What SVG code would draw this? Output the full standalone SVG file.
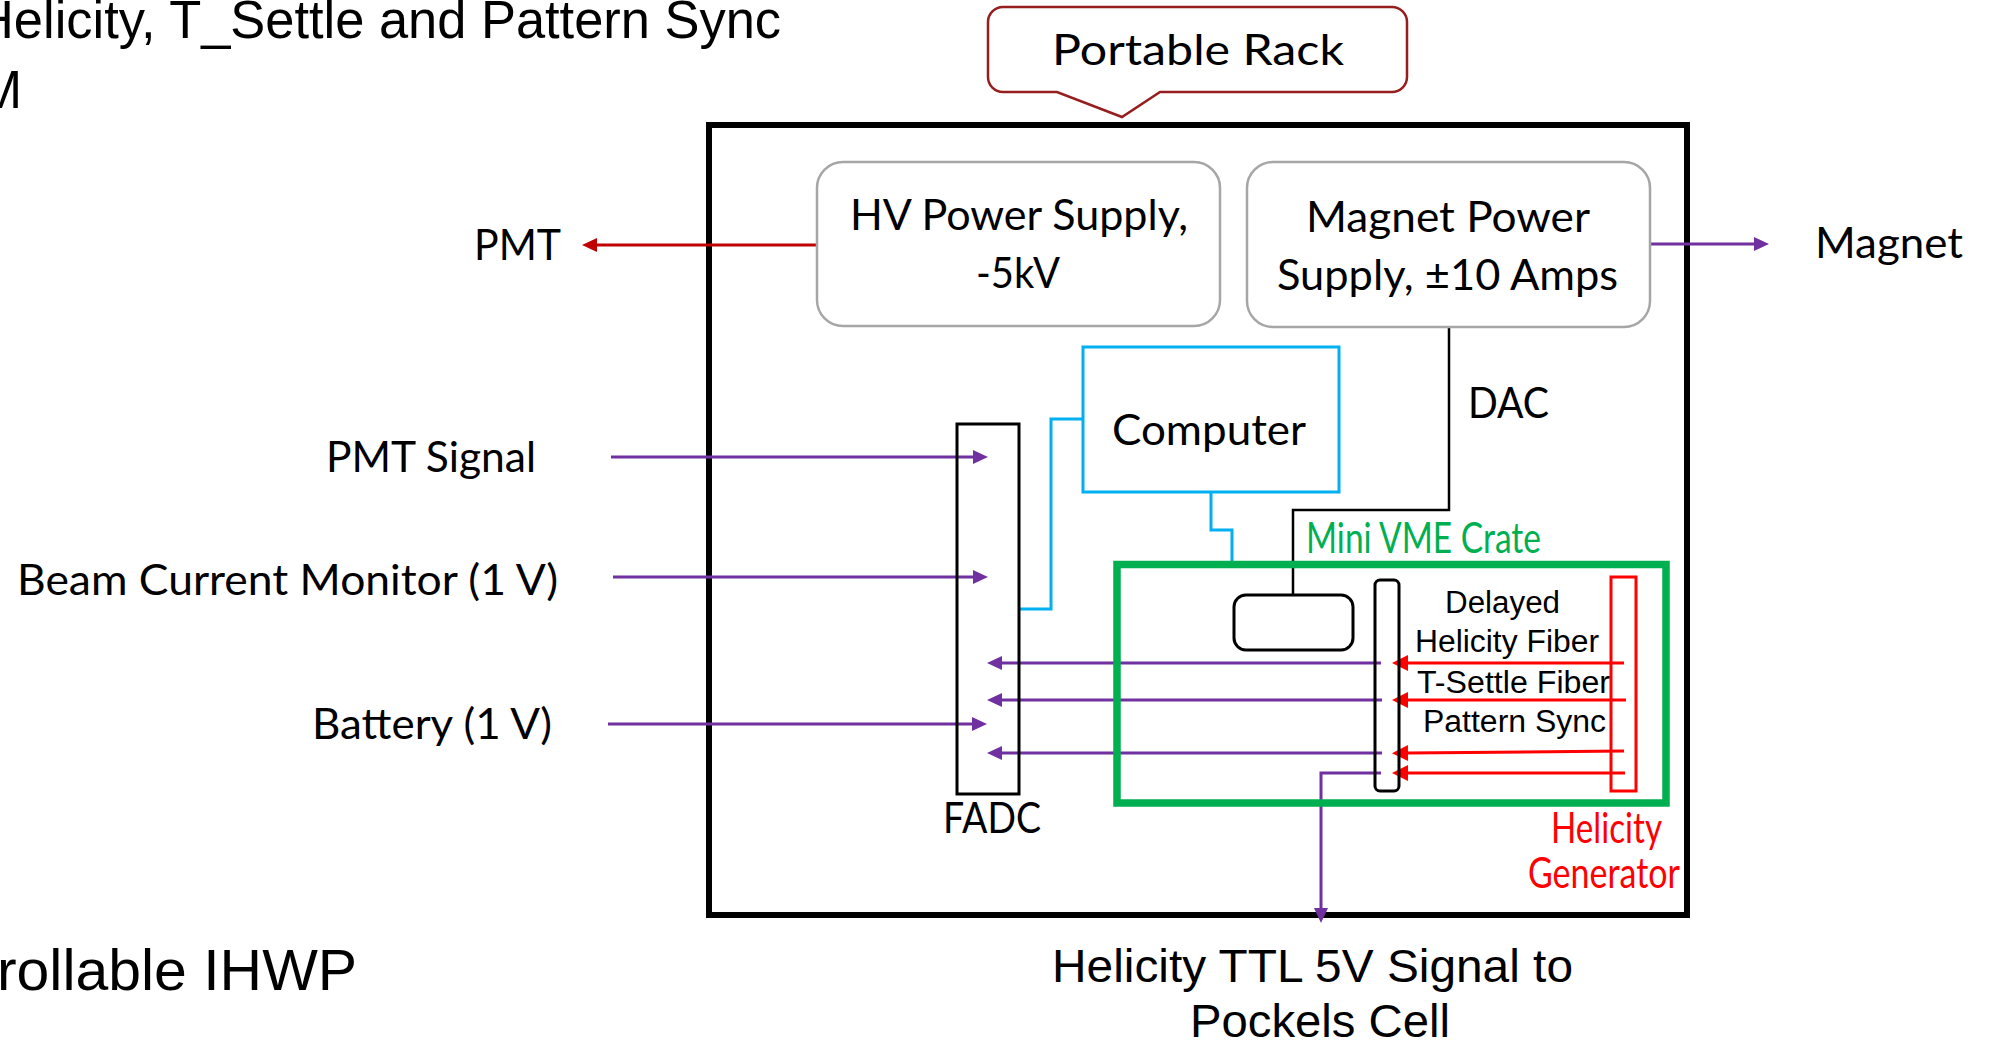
<svg xmlns="http://www.w3.org/2000/svg" width="1995" height="1043" viewBox="0 0 1995 1043">
<defs>
<style>
.c{font-family:Lato,"Noto Sans",sans-serif;font-size:42px;fill:#000}
.a{font-family:"Liberation Sans",Arial,sans-serif;fill:#000}
.gbox{fill:#fff;stroke:#A6A6A6;stroke-width:2.5}
.pl{fill:none;stroke:#7030A0;stroke-width:3}
.rl{fill:none;stroke:#FF0000;stroke-width:3}
.bl{fill:none;stroke:#000;stroke-width:2.5}
.cy{fill:none;stroke:#00B0F0;stroke-width:3}
</style>
<marker id="ap" markerUnits="userSpaceOnUse" markerWidth="15" markerHeight="14" refX="0" refY="7" orient="auto" viewBox="0 0 15 14"><path d="M0,0 L15,7 L0,14 z" fill="#7030A0"/></marker>
<marker id="ar" markerUnits="userSpaceOnUse" markerWidth="16" markerHeight="16" refX="0" refY="8" orient="auto" viewBox="0 0 16 16"><path d="M0,0 L16,8 L0,16 z" fill="#FF0000"/></marker>
<marker id="ad" markerUnits="userSpaceOnUse" markerWidth="15" markerHeight="14" refX="0" refY="7" orient="auto" viewBox="0 0 15 14"><path d="M0,0 L15,7 L0,14 z" fill="#C00000"/></marker>
</defs>
<rect width="1995" height="1043" fill="#fff"/>

<g id="title">
<text class="a" x="-24" y="38" font-size="53" textLength="805" lengthAdjust="spacingAndGlyphs">Helicity, T_Settle and Pattern Sync</text>
<text class="a" x="-22" y="108" font-size="53">M</text>
<text class="a" x="-3" y="990" font-size="58" textLength="360" lengthAdjust="spacingAndGlyphs">rollable IHWP</text>
</g>

<g id="rack">
<rect x="709" y="125" width="978" height="790" fill="none" stroke="#000" stroke-width="6"/>
</g>

<g id="portable-rack-callout">
<path d="M1003,7 H1392 A15,15 0 0 1 1407,22 V77 A15,15 0 0 1 1392,92 H1160 L1122,117 L1057,92 H1003 A15,15 0 0 1 988,77 V22 A15,15 0 0 1 1003,7 Z" fill="#fff" stroke="#961E1E" stroke-width="2.5"/>
<text class="c" x="1052" y="65" font-size="46" textLength="292" lengthAdjust="spacingAndGlyphs">Portable Rack</text>
</g>

<g id="connectors">
<line x1="817" y1="245" x2="597" y2="245" stroke="#C00000" stroke-width="3" marker-end="url(#ad)"/>
<line class="pl" x1="1650" y1="244" x2="1754" y2="244" marker-end="url(#ap)"/>
<line class="pl" x1="611" y1="457" x2="973" y2="457" marker-end="url(#ap)"/>
<line class="pl" x1="613" y1="577" x2="973" y2="577" marker-end="url(#ap)"/>
<line class="pl" x1="608" y1="724" x2="972" y2="724" marker-end="url(#ap)"/>
<path class="bl" d="M1449,327 V510 H1293 V595"/>
<path class="cy" d="M1211,492 V530 H1232 V565"/>
<path class="cy" d="M1083,419 H1051 V609 H1019"/>
<line class="pl" x1="1381" y1="663" x2="1002" y2="663" marker-end="url(#ap)"/>
<line class="pl" x1="1382" y1="700" x2="1002" y2="700" marker-end="url(#ap)"/>
<line class="pl" x1="1382" y1="753" x2="1002" y2="753" marker-end="url(#ap)"/>
<path class="pl" d="M1381,773 H1321 V908" marker-end="url(#ap)"/>
<line class="rl" x1="1624" y1="663" x2="1408" y2="663" marker-end="url(#ar)"/>
<line class="rl" x1="1626" y1="700" x2="1408" y2="700" marker-end="url(#ar)"/>
<line class="rl" x1="1624" y1="751" x2="1408" y2="753" marker-end="url(#ar)"/>
<line class="rl" x1="1625" y1="773" x2="1408" y2="773" marker-end="url(#ar)"/>
</g>

<g id="hv-power-supply">
<rect class="gbox" x="817" y="162" width="403" height="164" rx="26"/>
<text class="c" x="850" y="230" textLength="338" lengthAdjust="spacingAndGlyphs">HV Power Supply,</text>
<text class="c" x="976" y="288" textLength="84" lengthAdjust="spacingAndGlyphs">-5kV</text>
</g>

<g id="magnet-power-supply">
<rect class="gbox" x="1247" y="162" width="403" height="165" rx="26"/>
<text class="c" x="1306" y="232" textLength="284" lengthAdjust="spacingAndGlyphs">Magnet Power</text>
<text class="c" x="1277" y="290" textLength="341" lengthAdjust="spacingAndGlyphs">Supply, ±10 Amps</text>
</g>

<g id="labels-outside">
<text class="c" x="474" y="260" textLength="87" lengthAdjust="spacingAndGlyphs">PMT</text>
<text class="c" x="1815" y="258" textLength="148" lengthAdjust="spacingAndGlyphs">Magnet</text>
<text class="c" x="326" y="472" textLength="210" lengthAdjust="spacingAndGlyphs">PMT Signal</text>
<text class="c" x="17" y="595" textLength="541" lengthAdjust="spacingAndGlyphs">Beam Current Monitor (1 V)</text>
<text class="c" x="312" y="739" textLength="240" lengthAdjust="spacingAndGlyphs">Battery (1 V)</text>
<text class="c" x="1468" y="418" textLength="81" lengthAdjust="spacingAndGlyphs">DAC</text>
</g>

<g id="computer">
<rect x="1083" y="347" width="256" height="145" fill="#fff" stroke="#00B0F0" stroke-width="3"/>
<text class="c" x="1112" y="445" textLength="194" lengthAdjust="spacingAndGlyphs">Computer</text>
</g>

<g id="fadc">
<rect x="957" y="424" width="62" height="370" fill="none" stroke="#000" stroke-width="3"/>
<text class="c" x="943" y="833" textLength="98" lengthAdjust="spacingAndGlyphs">FADC</text>
</g>

<g id="mini-vme-crate">
<rect x="1117" y="564.5" width="549" height="238.5" fill="none" stroke="#00B050" stroke-width="7.5"/>
<text class="c" x="1306" y="553" font-size="29" style="fill:#00B050" textLength="235" lengthAdjust="spacingAndGlyphs">Mini VME Crate</text>
</g>

<g id="vme-module">
<rect x="1234" y="595" width="119" height="55" rx="12" fill="#fff" stroke="#000" stroke-width="3"/>
</g>

<g id="vme-board">
<rect x="1375" y="580" width="24" height="211" rx="5" fill="none" stroke="#000" stroke-width="3"/>
</g>

<g id="helicity-generator">
<rect x="1611" y="577" width="25" height="214" fill="none" stroke="#FF0000" stroke-width="3"/>
<text class="c" x="1551" y="843" font-size="30" style="fill:#FF0000" textLength="111" lengthAdjust="spacingAndGlyphs">Helicity</text>
<text class="c" x="1528" y="888" font-size="30" style="fill:#FF0000" textLength="152" lengthAdjust="spacingAndGlyphs">Generator</text>
</g>

<g id="fiber-labels">
<text class="a" x="1445" y="613" font-size="31" textLength="115" lengthAdjust="spacingAndGlyphs">Delayed</text>
<text class="a" x="1415" y="652" font-size="31" textLength="184" lengthAdjust="spacingAndGlyphs">Helicity Fiber</text>
<text class="a" x="1417" y="693" font-size="31" textLength="193" lengthAdjust="spacingAndGlyphs">T-Settle Fiber</text>
<text class="a" x="1423" y="732" font-size="31" textLength="183" lengthAdjust="spacingAndGlyphs">Pattern Sync</text>
</g>

<g id="pockels-label">
<text class="a" x="1052" y="982" font-size="47" textLength="521" lengthAdjust="spacingAndGlyphs">Helicity TTL 5V Signal to</text>
<text class="a" x="1190" y="1037" font-size="47" textLength="260" lengthAdjust="spacingAndGlyphs">Pockels Cell</text>
</g>
</svg>
